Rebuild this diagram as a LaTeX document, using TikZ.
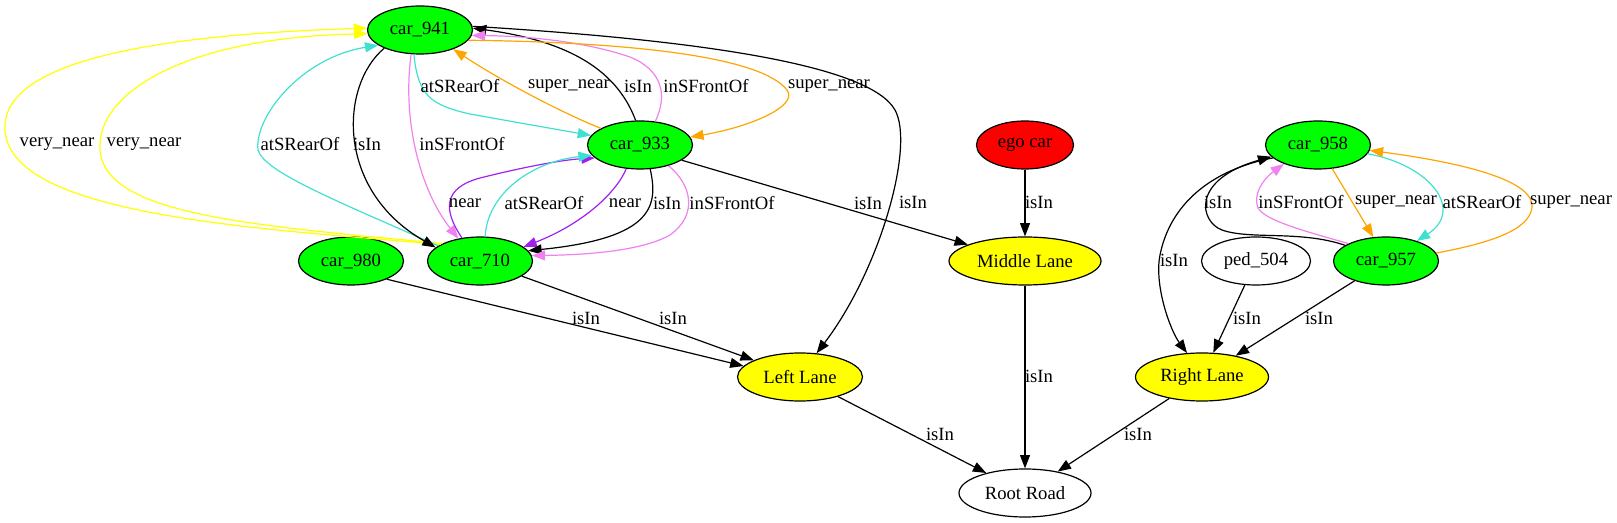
\documentclass[tikz,border=0pt]{standalone}
\usepackage{fontspec}
\setmainfont{Liberation Serif}
\usetikzlibrary{arrows.meta,shapes.geometric}
\definecolor{gvgreen}{HTML}{00FF00}
\definecolor{gvyellow}{HTML}{FFFF00}
\definecolor{gvred}{HTML}{FF0000}
\definecolor{gvturq}{HTML}{40E0D0}
\definecolor{gvviolet}{HTML}{EE82EE}
\definecolor{gvpurple}{HTML}{A020F0}
\definecolor{gvorange}{HTML}{FFA500}
\begin{document}
\begin{tikzpicture}[x=0.75pt,y=-0.75pt,
  every node/.style={font=\fontsize{14}{16}\selectfont},
  gnode/.style={ellipse,draw=black,line width=0.9pt,inner sep=0pt,minimum height=36pt},
  car/.style={gnode,fill=gvgreen,minimum width=78.75pt},
  lane/.style={gnode,fill=gvyellow},
  gedge/.style={line width=0.9pt,-{Triangle[length=10pt,width=7.5pt]}},
  lbl/.style={inner sep=0pt}
]
\useasboundingbox (0,0) rectangle (1617,523);
% nodes
\node[car] (car941) at (420,30) {car\_941};
\node[car] (car933) at (640,145) {car\_933};
\node[car] (car710) at (480,261) {car\_710};
\node[car] (car980) at (351,261) {car\_980};
\node[gnode,fill=gvred,minimum width=72.75pt] (egocar) at (1025,145) {ego car};
\node[lane,minimum width=114pt] (middle) at (1025,261) {Middle Lane};
\node[lane,minimum width=93.75pt] (left) at (800,377) {Left Lane};
\node[lane,minimum width=99.75pt] (right) at (1202,377) {Right Lane};
\node[gnode,minimum width=99pt] (root) at (1025,493) {Root Road};
\node[gnode,minimum width=81.75pt] (ped504) at (1256,261) {ped\_504};
\node[car] (car958) at (1318,145) {car\_958};
\node[car] (car957) at (1386,261) {car\_957};

% left cluster edges
\draw[gedge,gvyellow] (car710.157) .. controls (250,228) and (10,215) .. (5,130) .. controls (1,62) and (150,35) .. (car941.178);
\draw[gedge,gvyellow] (car710.155) .. controls (250,225) and (105,215) .. (100,150) .. controls (96,95) and (180,38) .. (car941.184);
\draw[gedge,gvturq] (car710.160) .. controls (330,198) and (265,172) .. (258,150) .. controls (254,118) and (300,58) .. (car941.200);
\draw[gedge,black] (car941.207) .. controls (340,85) and (335,190) .. (car710.163);
\draw[gedge,gvviolet] (car941.250) .. controls (402,120) and (420,190) .. (car710.134);
\draw[gedge,gvturq] (car941.256) .. controls (418,95) and (430,105) .. (470,114) .. controls (520,123) and (560,130) .. (car933.169);
\draw[gedge,gvorange] (car933.157) .. controls (560,112) and (500,80) .. (car941.330);
\draw[gedge,black] (car933.100) .. controls (615,65) and (560,40) .. (car941.2);
\draw[gedge,gvviolet] (car933.57) .. controls (668,95) and (662,70) .. (630,57) .. controls (580,40) and (520,36) .. (car941.354);
\draw[gedge,gvorange] (car941.348) .. controls (620,42) and (760,55) .. (787,90) .. controls (799,106) and (750,127) .. (car933.9);
\draw[gedge,black] (car941.4) .. controls (700,40) and (870,65) .. (895,110) .. controls (915,146) and (880,270) .. (left.55);
\draw[gedge,gvpurple] (car710.128) .. controls (443,210) and (443,188) .. (480,178) .. controls (520,168) and (560,160) .. (car933.196);
\draw[gedge,gvturq] (car710.78) .. controls (487,195) and (530,162) .. (car933.192);
\draw[gedge,gvpurple] (car933.240) .. controls (615,195) and (580,225) .. (car710.18);
\draw[gedge,black] (car933.293) .. controls (658,205) and (655,238) .. (car710.12);
\draw[gedge,gvviolet] (car933.324) .. controls (692,185) and (698,215) .. (670,235) .. controls (640,252) and (580,255) .. (car710.6);
\draw[gedge,black] (car933.340) -- (middle.164);
\draw[gedge,black] (egocar) -- (middle);
\draw[gedge,black] (middle) -- (root);
\draw[gedge,black] (left) -- (root);
\draw[gedge,black] (right) -- (root);
\draw[gedge,black] (car980.333) -- (left.169);
\draw[gedge,black] (car710) -- (left);

% right cluster edges
\draw[gedge,black] (car957.159) .. controls (1300,230) and (1250,240) .. (1222,230) .. controls (1200,222) and (1190,180) .. (car958.194);
\draw[gedge,black] (car958.196) .. controls (1210,170) and (1170,205) .. (1160,255) .. controls (1154,285) and (1170,330) .. (right.122);
\draw[gedge,gvviolet] (car957.155) .. controls (1300,230) and (1265,220) .. (1258,208) .. controls (1253,195) and (1262,180) .. (car958.209);
\draw[gedge,gvorange] (car958.301) -- (car957.118);
\draw[gedge,gvturq] (car958.350) .. controls (1430,165) and (1465,210) .. (car957.33);
\draw[gedge,gvorange] (car957.9) .. controls (1490,243) and (1530,230) .. (1532,207) .. controls (1534,184) and (1480,165) .. (car958.354);
\draw[gedge,black] (ped504) -- (right);
\draw[gedge,black] (car957) -- (right);

% labels
\node[lbl] (l01) at (57,144) {very\_near};
\node[lbl] (l02) at (144,144) {very\_near};
\node[lbl] (l03) at (300,144) {atSRearOf};
\node[lbl] (l04) at (367,144) {isIn};
\node[lbl] (l05) at (462,144) {inSFrontOf};
\node[lbl] (l06) at (460,86) {atSRearOf};
\node[lbl] (l07) at (569,86) {super\_near};
\node[lbl] (l08) at (638,86) {isIn};
\node[lbl] (l09) at (706,86) {inSFrontOf};
\node[lbl] (l10) at (829,86) {super\_near};
\node[lbl] (l11) at (465,203) {near};
\node[lbl] (l12) at (544,203) {atSRearOf};
\node[lbl] (l13) at (625,203) {near};
\node[lbl] (l14) at (667,203) {isIn};
\node[lbl] (l15) at (732,203) {inSFrontOf};
\node[lbl] (l16) at (868,203) {isIn};
\node[lbl] (l17) at (913,202) {isIn};
\node[lbl] (l18) at (1039,202) {isIn};
\node[lbl] (l19) at (586,318) {isIn};
\node[lbl] (l20) at (673,318) {isIn};
\node[lbl] (l21) at (1039,376) {isIn};
\node[lbl] (l22) at (940,434) {isIn};
\node[lbl] (l23) at (1138,434) {isIn};
\node[lbl] (l24) at (1218,202) {isIn};
\node[lbl] (l25) at (1301,202) {inSFrontOf};
\node[lbl] (l26) at (1396,202) {super\_near};
\node[lbl] (l27) at (1482,202) {atSRearOf};
\node[lbl] (l28) at (1571,202) {super\_near};
\node[lbl] (l29) at (1174,260) {isIn};
\node[lbl] (l30) at (1247,318) {isIn};
\node[lbl] (l31) at (1319,318) {isIn};
\end{tikzpicture}
\end{document}
